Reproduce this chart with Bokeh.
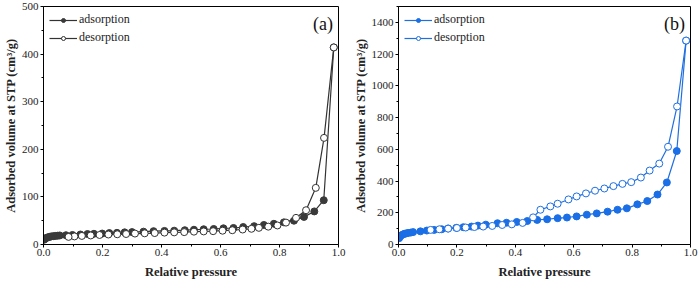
from bokeh.plotting import figure
from bokeh.layouts import row
from bokeh.models import FixedTicker, PrintfTickFormatter, Range1d, Label
from bokeh.embed import file_html
from bokeh.resources import INLINE

# ---- Panel (a) data ----
a_ads_x = [0.002, 0.005, 0.01, 0.015, 0.02, 0.026, 0.033, 0.04, 0.048, 0.055, 0.076, 0.098,
           0.125, 0.149, 0.171, 0.199, 0.223, 0.249, 0.275, 0.3, 0.339, 0.373, 0.41, 0.443,
           0.479, 0.51, 0.543, 0.577, 0.61, 0.644, 0.677, 0.714, 0.747, 0.781, 0.815, 0.849,
           0.883, 0.918, 0.95, 0.984]
a_ads_y = [10, 12, 14, 15, 16, 17, 17.5, 18, 18.5, 19, 19.5, 20, 21, 22, 22.5, 23, 24, 24.5,
           25.5, 26, 27, 28, 28.5, 29, 30, 31, 32, 32.6, 34, 34.7, 36.7, 38.5, 41, 43.5, 46.5,
           50, 58, 69.5, 93, 414]
a_des_x = [0.984, 0.951, 0.923, 0.89, 0.856, 0.822, 0.793, 0.762, 0.73, 0.705, 0.675, 0.64,
           0.607, 0.575, 0.543, 0.51, 0.477, 0.443, 0.41, 0.377, 0.343, 0.31, 0.28, 0.25,
           0.22, 0.19, 0.16, 0.13, 0.105, 0.085]
a_des_y = [414, 224, 119, 72, 56, 46, 40, 37.5, 35, 33, 31.5, 30, 29, 28, 27.5, 27, 26, 25.5,
           25, 24, 23.5, 23, 22, 21.5, 21, 20, 19, 18, 17, 16]

# ---- Panel (b) data ----
b_ads_x = [0.002, 0.005, 0.01, 0.015, 0.02, 0.026, 0.033, 0.042, 0.05, 0.075, 0.097, 0.122,
           0.148, 0.17, 0.198, 0.222, 0.25, 0.272, 0.299, 0.339, 0.37, 0.405, 0.441, 0.475,
           0.509, 0.545, 0.577, 0.61, 0.645, 0.679, 0.716, 0.75, 0.782, 0.818, 0.852, 0.887,
           0.919, 0.953, 0.985]
b_ads_y = [40, 50, 58, 63, 67, 70, 73, 75, 78, 83, 88, 92, 96, 101, 105, 109, 113, 119, 125,
           134, 137, 142, 148, 155, 159, 166, 170, 177, 188, 196, 207, 219, 228, 253, 274, 315,
           391, 589, 1285]
b_des_x = [0.985, 0.954, 0.923, 0.893, 0.86, 0.83, 0.797, 0.767, 0.736, 0.705, 0.673, 0.642,
           0.61, 0.582, 0.545, 0.52, 0.486, 0.461, 0.425, 0.388, 0.355, 0.321, 0.29, 0.26,
           0.23, 0.2, 0.17, 0.14, 0.11]
b_des_y = [1285, 870, 616, 510, 466, 422, 393, 382, 368, 353, 339, 322, 303, 284, 257, 240,
           219, 171, 136, 127, 123, 117, 113, 110, 107, 104, 100, 96, 92]

x_ticks = [0.0, 0.2, 0.4, 0.6, 0.8, 1.0]
a_y_ticks = [0, 100, 200, 300, 400, 500]
b_y_ticks = [0, 200, 400, 600, 800, 1000, 1200, 1400]
x_title = "Relative pressure"
y_title = "Adsorbed volume at STP (cm³/g)"

FONT = "Liberation Serif"


def make_panel(ads_x, ads_y, des_x, des_y, yticks, ymax, color, mcolor, tag, width, bl, br):
    p = figure(width=width, height=282, output_backend="svg", toolbar_location=None,
               x_range=Range1d(0, 1.0), y_range=Range1d(0, ymax),
               min_border_left=bl, min_border_right=br, min_border_top=6, min_border_bottom=38,
               min_border=0)
    p.grid.visible = False
    p.outline_line_color = "black"
    p.outline_line_width = 1
    p.background_fill_color = "white"
    p.border_fill_color = "white"

    p.line(ads_x, ads_y, line_color=color, line_width=1.2, legend_label="adsorption")
    p.scatter(ads_x, ads_y, size=7, fill_color=mcolor, line_color=mcolor, legend_label="adsorption")
    p.line(des_x, des_y, line_color=color, line_width=1.2, legend_label="desorption")
    p.scatter(des_x, des_y, size=7, fill_color="white", line_color=color, line_width=1,
              legend_label="desorption")

    for ax in (p.xaxis[0], p.yaxis[0]):
        ax.axis_line_color = "black"
        ax.major_tick_line_color = "black"
        ax.minor_tick_line_color = "black"
        ax.major_tick_in = 0
        ax.major_tick_out = 3
        ax.minor_tick_in = 0
        ax.minor_tick_out = 2
        ax.major_label_text_font = FONT
        ax.major_label_text_font_size = "11px"
        ax.major_label_text_color = "#222222"
        ax.axis_label_text_font = FONT
        ax.axis_label_text_font_style = "bold"
        ax.axis_label_text_font_size = "12.5px"
        ax.axis_label_text_color = "#222222"
        ax.major_label_standoff = 1
        ax.axis_label_standoff = 2

    xt = FixedTicker(ticks=x_ticks, minor_ticks=[0.1, 0.3, 0.5, 0.7, 0.9])
    p.xaxis[0].ticker = xt
    p.xaxis[0].formatter = PrintfTickFormatter(format="%.1f")
    step = yticks[1] - yticks[0]
    minors = [t + step / 2 for t in yticks if t + step / 2 <= ymax]
    p.yaxis[0].ticker = FixedTicker(ticks=yticks, minor_ticks=minors)
    p.yaxis[0].formatter = PrintfTickFormatter(format="%d")
    p.xaxis[0].axis_label = x_title
    p.xaxis[0].axis_label_standoff = 6
    p.yaxis[0].axis_label = y_title
    p.yaxis[0].axis_label_standoff = 1
    p.yaxis[0].major_label_standoff = 2

    leg = p.legend[0]
    leg.location = "top_left"
    leg.border_line_color = None
    leg.background_fill_alpha = 0
    leg.label_text_font = FONT
    leg.label_text_font_size = "12px"
    leg.label_text_color = "#222222"
    leg.glyph_width = 28
    leg.glyph_height = 10
    leg.label_height = 10
    leg.spacing = 3
    leg.padding = 2
    leg.margin = 6
    leg.label_standoff = 2

    p.add_layout(Label(x=0.995, y=ymax * 0.985, text=tag, text_font=FONT, text_font_size="18px",
                       text_align="right", text_baseline="top", x_offset=-4, y_offset=-4,
                       text_color="#111111"))
    return p


pa = make_panel(a_ads_x, a_ads_y, a_des_x, a_des_y, a_y_ticks, 500, "#333333", "#3a3a3a",
                "(a)", 350, 40, 12)
pb = make_panel(b_ads_x, b_ads_y, b_des_x, b_des_y, b_y_ticks, 1500, "#1f6fe0", "#1a6ee6",
                "(b)", 348, 44, 8)

layout = row(pa, pb, spacing=0)
open("out.html", "w").write(file_html(layout, INLINE))
